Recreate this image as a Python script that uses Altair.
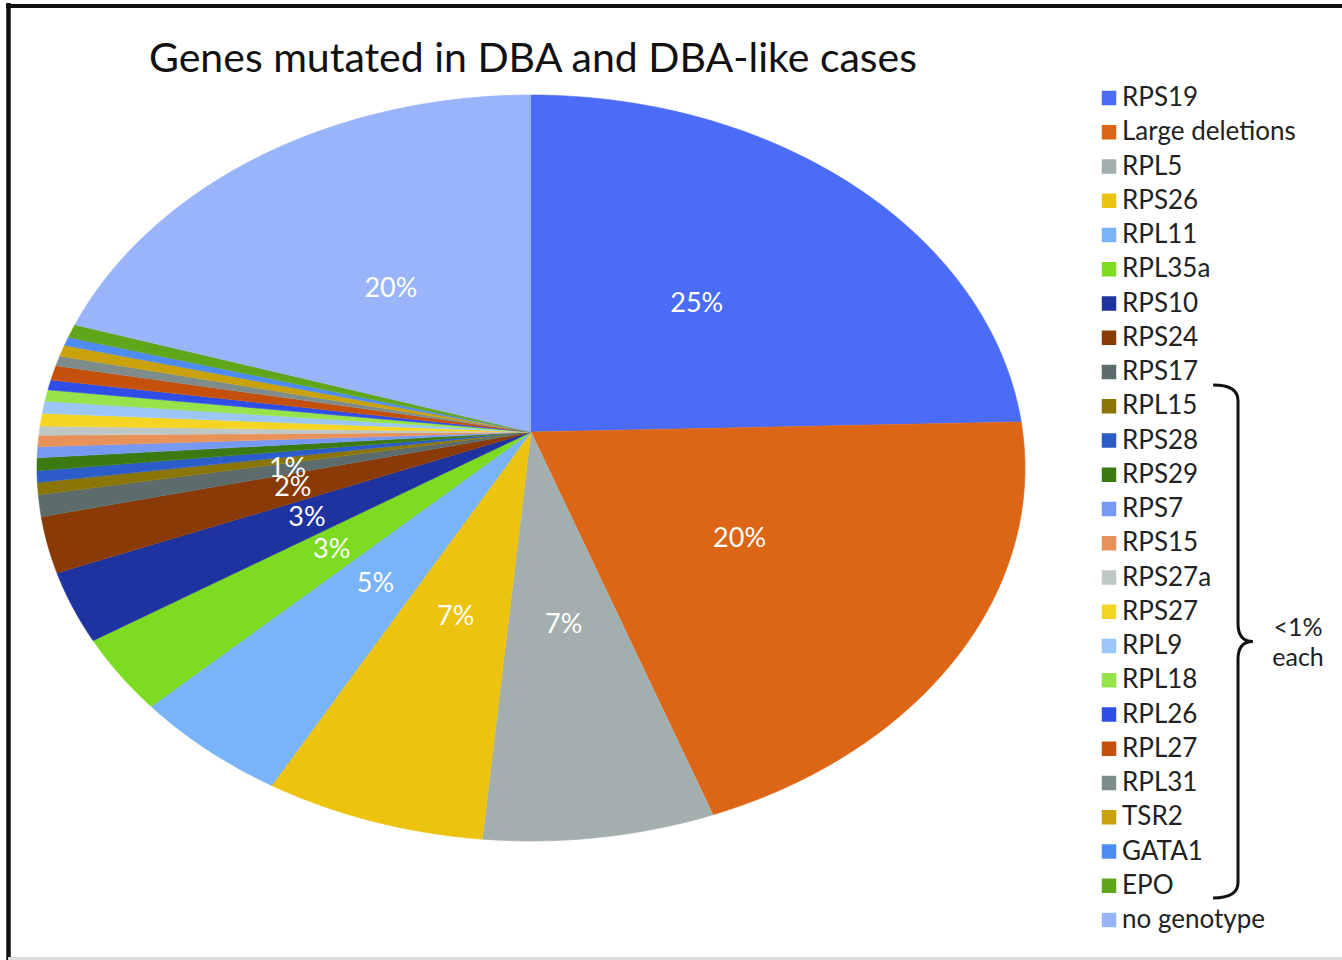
import altair as alt
import pandas as pd

# ---- data ----
genes = ["RPS19", "Large deletions", "RPL5", "RPS26", "RPL11", "RPL35a", "RPS10",
         "RPS24", "RPS17", "RPL15", "RPS28", "RPS29", "RPS7", "RPS15", "RPS27a",
         "RPS27", "RPL9", "RPL18", "RPL26", "RPL27", "RPL31", "TSR2", "GATA1",
         "EPO", "no genotype"]
shares = [24.6, 20.0, 6.9, 6.6, 4.8, 3.2, 3.0, 2.4, 0.93, 0.52, 0.50, 0.55, 0.47,
          0.50, 0.39, 0.56, 0.53, 0.50, 0.44, 0.64, 0.44, 0.50, 0.37, 0.60, 20.2]
labels = ["25%", "20%", "7%", "7%", "5%", "3%", "3%", "2%", "1%",
          "", "", "", "", "", "", "", "", "", "", "", "", "", "", "",
          "20%"]
colors = ["#4a6cf7", "#dd6616", "#a3afae", "#ecc30f", "#79b3f9", "#7ddb22", "#1f33a0",
          "#8a3a06", "#5c6b6b", "#8a7506", "#2b5cc9", "#3b7a10", "#7699f4", "#e8925a",
          "#bfc7c6", "#f5d524", "#9bc7f8", "#96e34a", "#2f4ee8", "#c4500c", "#7f8c8c",
          "#c9a10a", "#4d8cf5", "#5fa61a", "#9ab4fa"]
title_text = "Genes mutated in DBA and DBA-like cases"
bracket_note = "<1%\neach"

# ---- style constants ----
TILT = 0.0965          # perspective of the tilted pie
LABEL_R = 0.5          # label radius (fraction)
XMAX = 1 / (1 - TILT ** 2) ** 0.5
YTOP = 1 / (1 + TILT)
YBOT = -1 / (1 - TILT)
W, H = 988, 746
FONT = "Lato"

df = pd.DataFrame({"idx": list(range(len(genes))), "gene": genes,
                   "share": shares, "label": labels})

xs = alt.Scale(domain=[-XMAX, XMAX], nice=False, zero=False)
ys = alt.Scale(domain=[YBOT, YTOP], nice=False, zero=False)
cs = alt.Scale(domain=genes, range=colors)

base = (alt.Chart(df)
        .transform_window(cum="sum(share)", sort=[alt.SortField("idx")], frame=[None, 0])
        .transform_joinaggregate(total="sum(share)")
        .transform_calculate(a0="2*PI*(datum.cum-datum.share)/datum.total",
                             a1="2*PI*datum.cum/datum.total"))

slices = (base
          .transform_calculate(steps="sequence(-1, 61)")
          .transform_flatten(["steps"], ["k"])
          .transform_calculate(t="datum.a0 + (datum.a1-datum.a0)*max(datum.k,0)/60",
                               r="datum.k < 0 ? 0 : 1")
          .transform_calculate(
              px=f"datum.r*sin(datum.t)/(1+{TILT}*datum.r*cos(datum.t))",
              py=f"datum.r*cos(datum.t)/(1+{TILT}*datum.r*cos(datum.t))")
          .mark_line(filled=True, interpolate="linear", strokeWidth=0.6)
          .encode(
              x=alt.X("px:Q", scale=xs, axis=None),
              y=alt.Y("py:Q", scale=ys, axis=None),
              color=alt.Color("gene:N", scale=cs, sort=genes,
                              legend=alt.Legend(orient="none", legendX=1059, legendY=-10,
                                                title=None, symbolType="square",
                                                symbolSize=210, symbolStrokeWidth=0,
                                                labelFontSize=26, labelFont=FONT,
                                                labelColor="#222", rowPadding=8.25,
                                                labelOffset=0, labelLimit=300)),
              stroke=alt.Stroke("gene:N", scale=cs, legend=None),
              order=alt.Order("k:Q")))

texts = (base
         .transform_filter("datum.label != ''")
         .transform_calculate(tm="(datum.a0+datum.a1)/2")
         .transform_calculate(
             lx=f"{LABEL_R}*sin(datum.tm)/(1+{TILT}*{LABEL_R}*cos(datum.tm))",
             ly=f"{LABEL_R}*cos(datum.tm)/(1+{TILT}*{LABEL_R}*cos(datum.tm))")
         .mark_text(color="white", fontSize=27, font=FONT)
         .encode(x=alt.X("lx:Q", scale=xs, axis=None),
                 y=alt.Y("ly:Q", scale=ys, axis=None),
                 text="label:N"))

one = pd.DataFrame({"a": [0]})
title = (alt.Chart(pd.DataFrame({"t": [title_text]}))
         .mark_text(fontSize=41, font=FONT, color="#111", align="center",
                    baseline="alphabetic")
         .encode(x=alt.value(496), y=alt.value(-23), text="t:N"))

brace_path = ("M-0.097,-1 Q0,-1 0,-0.94 L0,-0.07 Q0,0 0.058,0 "
              "Q0,0 0,0.07 L0,0.94 Q0,1 -0.097,1")
brace = (alt.Chart(one)
         .mark_point(shape=brace_path, filled=False, color="#111", strokeWidth=3,
                     size=(2 * 256.5) ** 2, opacity=1)
         .encode(x=alt.value(1201), y=alt.value(546.5)))
note = (alt.Chart(pd.DataFrame({"note": [bracket_note]}))
        .mark_text(fontSize=25, font=FONT, color="#222", lineBreak="\n",
                   lineHeight=30, align="center", baseline="middle")
        .encode(x=alt.value(1261), y=alt.value(533), text="note:N"))

frame_top = alt.Chart(one).mark_rule(color="#111", strokeWidth=4).encode(
    x=alt.value(-31), x2=alt.value(1305), y=alt.value(-89))
frame_left = alt.Chart(one).mark_rule(color="#111", strokeWidth=4.5).encode(
    x=alt.value(-28.5), y=alt.value(-92), y2=alt.value(865))
frame_bottom = alt.Chart(one).mark_rule(color="#dddddd", strokeWidth=3).encode(
    x=alt.value(-29), x2=alt.value(1305), y=alt.value(863.5))

chart = (alt.layer(slices, texts, title, brace, note, frame_top, frame_left, frame_bottom)
         .properties(width=W, height=H,
                     autosize=alt.AutoSizeParams(type="none"),
                     padding={"left": 37, "top": 95, "right": 317, "bottom": 119},
                     background="white")
         .configure_view(stroke=None))

chart.save("out.html", embed_options={"renderer": "svg", "actions": False})
